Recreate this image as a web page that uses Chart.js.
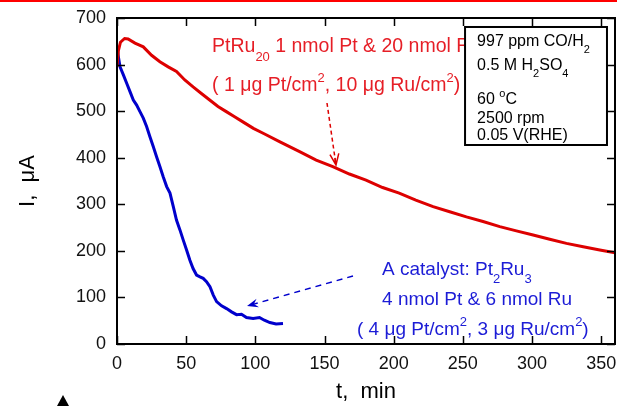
<!DOCTYPE html>
<html><head><meta charset="utf-8">
<script src="https://cdn.jsdelivr.net/npm/chart.js@4/dist/chart.umd.min.js"></script>
<style>html,body{margin:0;padding:0;background:#fff;}canvas{display:block;}</style>
</head><body>
<canvas id="c" width="617" height="406"></canvas>
<script>
// ---- data (time in min, current in µA) ----
const xTickValues = [0, 50, 100, 150, 200, 250, 300, 350];
const yTickValues = [0, 100, 200, 300, 400, 500, 600, 700];

const redT = [0, 1, 2.5, 5.5, 8, 13, 19, 25, 31, 37, 43, 49, 55, 61, 67, 73, 79, 85, 91, 98.6, 106, 117.8, 132, 144, 156, 168, 180, 192, 204, 216, 228.5, 240.5, 252.6, 264.6, 276.7, 288.7, 300.8, 312.8, 324.9, 337, 349, 360];
const redI = [595, 630, 648, 656, 655, 646, 638, 620, 606, 595, 585, 567, 552, 538, 524, 510, 499, 488, 477, 463, 452, 434, 413, 395, 381, 365, 352, 336, 324, 309, 295, 284, 273, 263, 252, 243, 234, 225, 216, 209, 202, 196];

const blueT = [0, 2.2, 4.6, 7, 9.4, 11.8, 14.2, 16.6, 19, 21.4, 23.8, 26.2, 28.6, 31, 33.4, 35.9, 38.3, 40.7, 43, 45.5, 47.9, 50.3, 52.7, 55, 57.5, 60, 62.3, 64.7, 67.2, 69.6, 72, 75.6, 79.2, 82.8, 86.4, 90, 93.6, 98.4, 103, 106.5, 110.5, 115, 120];
const blueI = [635, 595, 578, 560, 542, 524, 513, 499, 485, 467, 445, 424, 402, 381, 359, 338, 324, 295, 266, 245, 223, 202, 180, 162, 148, 144, 141, 134, 123, 105, 91, 82, 76, 69, 63, 64, 57, 55, 57, 51, 46, 43, 44];

// annotation texts (segments: [text, kind]) kind: '' normal, 'sub', 'sup'
const redLine1 = [["PtRu", ""], ["20", "sub"], [" 1 nmol Pt & 20 nmol Ru", ""]];
const redLine2 = [["( 1 μg Pt/cm", ""], ["2", "sup"], [", 10 μg Ru/cm", ""], ["2", "sup"], [")", ""]];
const blueLine1 = [["A catalyst: Pt", ""], ["2", "sub"], ["Ru", ""], ["3", "sub"]];
const blueLine2 = [["4 nmol Pt & 6 nmol Ru", ""]];
const blueLine3 = [["( 4 μg Pt/cm", ""], ["2", "sup"], [", 3 μg Ru/cm", ""], ["2", "sup"], [")", ""]];
const boxLines = [
  [["997 ppm CO/H", ""], ["2", "sub"]],
  [["0.5 M H", ""], ["2", "sub"], ["SO", ""], ["4", "sub"]],
  [["60 ", ""], ["o", "sup"], ["C", ""]],
  [["2500 rpm", ""]],
  [["0.05 V(RHE)", ""]]
];

// ---- anchors in data units ----
const redTextAnchor = [68.7, 627, 543];          // t, baseline1 I, baseline2 I
const blueTextAnchor = [191.6, 173.5, 148.2, 83.7, 19.3];
const boxRect = [251.6, 354.2, 680.7, 427.3];    // t0, t1, Itop, Ibottom
const boxTextT = 260.3;
const boxTextI = [640, 589.4, 515.4, 474.6, 437];
const redArrow = [151.8, 517.5, 158.3, 384.4];
const blueArrow = [170.6, 146, 94, 81.6];

const FONT = "'Liberation Sans', Arial, sans-serif";
const RED_LINE = '#dd0000', RED_TEXT = '#e61e26', BLUE_LINE = '#0000cc', BLUE_TEXT = '#1c1cd6';

function pts(ts, vs) { return ts.map((t, i) => ({x: t, y: vs[i]})); }

function drawRich(ctx, x, y, segs, color, size, small, dy) {
  ctx.fillStyle = color;
  ctx.textBaseline = 'alphabetic';
  ctx.textAlign = 'left';
  for (const [txt, kind] of segs) {
    const fs = kind ? small : size;
    ctx.font = fs + 'px ' + FONT;
    const yy = kind === 'sub' ? y + dy : kind === 'sup' ? y - dy : y;
    ctx.fillText(txt, x, yy);
    x += ctx.measureText(txt).width;
  }
}

function dashedArrow(ctx, x0, y0, x1, y1, color, dash, filled) {
  ctx.save();
  ctx.strokeStyle = color; ctx.fillStyle = color; ctx.lineWidth = 1.5;
  const ang = Math.atan2(y1 - y0, x1 - x0);
  const L = 12;
  ctx.setLineDash(dash);
  ctx.beginPath(); ctx.moveTo(x0, y0);
  ctx.lineTo(x1 - Math.cos(ang) * 4, y1 - Math.sin(ang) * 4); ctx.stroke();
  ctx.setLineDash([]);
  const a1 = ang + Math.PI - 0.38, a2 = ang + Math.PI + 0.38;
  const p1 = [x1 + Math.cos(a1) * L, y1 + Math.sin(a1) * L];
  const p2 = [x1 + Math.cos(a2) * L, y1 + Math.sin(a2) * L];
  const n = [x1 - Math.cos(ang) * L * 0.6, y1 - Math.sin(ang) * L * 0.6];
  ctx.beginPath();
  if (filled) {
    ctx.moveTo(x1, y1); ctx.lineTo(p1[0], p1[1]); ctx.lineTo(n[0], n[1]); ctx.lineTo(p2[0], p2[1]); ctx.closePath(); ctx.fill();
  } else {
    ctx.moveTo(p1[0], p1[1]); ctx.lineTo(x1, y1); ctx.lineTo(p2[0], p2[1]);
    ctx.moveTo(x1, y1); ctx.lineTo(n[0], n[1]);
    ctx.stroke();
  }
  ctx.restore();
}

const framePlugin = {
  id: 'frame',
  afterDatasetsDraw(chart) {
    const {ctx, chartArea: a, scales: {x, y}} = chart;
    ctx.save();
    // frame
    ctx.strokeStyle = '#000'; ctx.lineWidth = 2;
    ctx.strokeRect(a.left, a.top, a.right - a.left, a.bottom - a.top);
    // inward ticks
    ctx.lineWidth = 1.5;
    ctx.beginPath();
    for (const v of xTickValues) {
      const px = Math.round(x.getPixelForValue(v)) + 0.5;
      ctx.moveTo(px, a.bottom); ctx.lineTo(px, a.bottom - 8);
      ctx.moveTo(px, a.top); ctx.lineTo(px, a.top + 8);
    }
    for (const v of yTickValues) {
      const py = Math.round(y.getPixelForValue(v)) + 0.5;
      ctx.moveTo(a.left, py); ctx.lineTo(a.left + 8, py);
      ctx.moveTo(a.right, py); ctx.lineTo(a.right - 8, py);
    }
    ctx.stroke();

    // red annotation
    const rx = x.getPixelForValue(redTextAnchor[0]);
    drawRich(ctx, rx, y.getPixelForValue(redTextAnchor[1]), redLine1, RED_TEXT, 19.5, 13, 9);
    drawRich(ctx, rx, y.getPixelForValue(redTextAnchor[2]), redLine2, RED_TEXT, 19.5, 13, 9);
    // blue annotation
    drawRich(ctx, x.getPixelForValue(blueTextAnchor[0]), y.getPixelForValue(blueTextAnchor[2]), blueLine1, BLUE_TEXT, 19, 13, 8);
    drawRich(ctx, x.getPixelForValue(blueTextAnchor[0]), y.getPixelForValue(blueTextAnchor[3]), blueLine2, BLUE_TEXT, 19, 13, 8);
    drawRich(ctx, x.getPixelForValue(blueTextAnchor[1]), y.getPixelForValue(blueTextAnchor[4]), blueLine3, BLUE_TEXT, 19, 13, 9);

    // arrows
    dashedArrow(ctx, x.getPixelForValue(redArrow[0]), y.getPixelForValue(redArrow[1]),
      x.getPixelForValue(redArrow[2]), y.getPixelForValue(redArrow[3]), RED_LINE, [4, 3], false);
    dashedArrow(ctx, x.getPixelForValue(blueArrow[0]), y.getPixelForValue(blueArrow[1]),
      x.getPixelForValue(blueArrow[2]), y.getPixelForValue(blueArrow[3]), BLUE_LINE, [6, 5], true);

    // condition box
    const bx0 = x.getPixelForValue(boxRect[0]), bx1 = x.getPixelForValue(boxRect[1]);
    const by0 = y.getPixelForValue(boxRect[2]), by1 = y.getPixelForValue(boxRect[3]);
    ctx.fillStyle = '#fff';
    ctx.fillRect(bx0, by0, bx1 - bx0, by1 - by0);
    ctx.strokeStyle = '#000'; ctx.lineWidth = 2;
    ctx.strokeRect(bx0, by0, bx1 - bx0, by1 - by0);
    const tx = x.getPixelForValue(boxTextT);
    boxLines.forEach((segs, i) => drawRich(ctx, tx, y.getPixelForValue(boxTextI[i]), segs, '#000', 16, 11, 7));

    // decorations outside the plot
    ctx.fillStyle = '#ff0000';
    ctx.fillRect(0, 0, chart.width, 2);
    ctx.fillStyle = '#000';
    ctx.beginPath(); ctx.moveTo(57, 406); ctx.lineTo(69, 406); ctx.lineTo(63, 395); ctx.closePath(); ctx.fill();
    ctx.restore();
  }
};

function noEdgePad(s) { s.paddingLeft = 0; s.paddingRight = 0; s.paddingTop = 0; s.paddingBottom = 0; }

new Chart(document.getElementById('c'), {
  type: 'line',
  data: {
    datasets: [
      {data: pts(redT, redI), borderColor: RED_LINE, borderWidth: 3, pointRadius: 0, tension: 0, fill: false},
      {data: pts(blueT, blueI), borderColor: BLUE_LINE, borderWidth: 3, pointRadius: 0, tension: 0, fill: false}
    ]
  },
  options: {
    responsive: false, animation: false,
    layout: {padding: {left: 0, top: 18, right: 2, bottom: 0}},
    plugins: {legend: {display: false}, tooltip: {enabled: false}},
    scales: {
      x: {
        type: 'linear', min: 0, max: 360,
        grid: {display: false, drawTicks: false}, border: {display: false},
        afterBuildTicks: s => { s.ticks = xTickValues.map(v => ({value: v})); },
        ticks: {color: '#111', font: {family: FONT, size: 18}, padding: 9, maxRotation: 0, autoSkip: false},
        title: {display: true, text: 't,  min', color: '#000', font: {family: FONT, size: 22}, padding: {top: 0, bottom: 1}},
        afterFit: s => { s.height = 62; noEdgePad(s); }
      },
      y: {
        min: 0, max: 700,
        grid: {display: false, drawTicks: false}, border: {display: false},
        afterBuildTicks: s => { s.ticks = yTickValues.map(v => ({value: v})); },
        ticks: {color: '#111', font: {family: FONT, size: 18}, padding: 11, autoSkip: false},
        title: {display: true, text: 'I,  μA', color: '#000', font: {family: FONT, size: 22}, padding: {top: 15, bottom: 0}},
        afterFit: s => { s.width = 117; noEdgePad(s); }
      }
    }
  },
  plugins: [framePlugin]
});
</script>
</body></html>
